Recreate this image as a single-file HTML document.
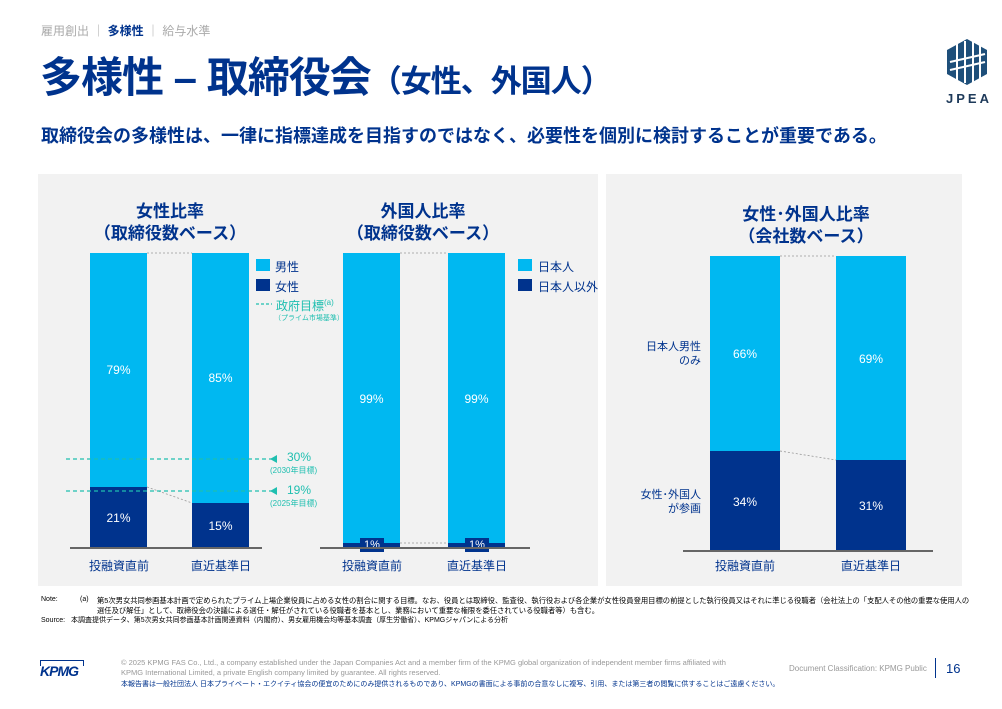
<!DOCTYPE html>
<html><head><meta charset="utf-8"><style>
*{margin:0;padding:0;box-sizing:border-box}
body{width:1002px;height:709px;background:#fff;position:relative;overflow:hidden;font-family:"Liberation Sans","Noto Sans CJK JP",sans-serif;color:#1e3a8a}
.a{position:absolute;white-space:nowrap}
.panel{position:absolute;background:#f2f2f2}
.bar{position:absolute}
.lt{background:#00b8f1}
.dk{background:#00338d}
.pct{position:absolute;color:#fff;font-size:12px;text-align:center}
.t{position:absolute;font-weight:bold;font-size:17px;color:#00338d;text-align:center;line-height:22px}
.xl{position:absolute;font-size:12px;color:#00338d;text-align:center;width:100px}
.base{position:absolute;height:2px;background:#666}
.teal{color:#1fbfb0}
</style></head><body>
<div class="a" style="left:41px;top:22px;font-size:12px;color:#aaa">雇用創出 ｜ <b style="color:#00338d">多様性</b> ｜ 給与水準</div>
<div class="a" style="left:40px;top:44px;font-size:42px;font-weight:bold;color:#00338d;letter-spacing:-1px">多様性 – 取締役会<span style="font-size:31px">（女性、外国人）</span></div>
<div class="a" style="left:41px;top:122px;font-size:18px;font-weight:bold;color:#00338d">取締役会の多様性は、一律に指標達成を目指すのではなく、必要性を個別に検討することが重要である。</div>
<svg class="a" style="left:945px;top:38px" width="45" height="48" viewBox="0 0 45 48">
<polygon points="22,1 42,12 42,36 22,47 2,36 2,12" fill="#1e4f7a"/>
<g stroke="#fff" stroke-width="2"><line x1="12" y1="6" x2="12" y2="42"/><line x1="20" y1="3" x2="20" y2="45"/><line x1="28" y1="3" x2="28" y2="45"/><line x1="35" y1="6" x2="35" y2="42"/><line x1="5" y1="24" x2="40" y2="16"/><line x1="5" y1="32" x2="40" y2="24"/></g></svg>
<div class="a" style="left:946px;top:91px;font-size:13px;font-weight:bold;color:#1e3a5a;letter-spacing:3px">JPEA</div>

<div class="panel" style="left:38px;top:174px;width:560px;height:412px"></div>
<div class="panel" style="left:606px;top:174px;width:356px;height:412px"></div>

<!-- chart1 -->
<div class="t" style="left:60px;top:201px;width:220px">女性比率<br>（取締役数ベース）</div>
<div class="bar lt" style="left:90px;top:253px;width:57px;height:234px"></div>
<div class="bar dk" style="left:90px;top:487px;width:57px;height:61px"></div>
<div class="bar lt" style="left:192px;top:253px;width:57px;height:250px"></div>
<div class="bar dk" style="left:192px;top:503px;width:57px;height:45px"></div>
<div class="pct" style="left:90px;top:363px;width:57px">79%</div>
<div class="pct" style="left:192px;top:371px;width:57px">85%</div>
<div class="pct" style="left:90px;top:511px;width:57px">21%</div>
<div class="pct" style="left:192px;top:519px;width:57px">15%</div>
<svg class="a" style="left:0;top:0" width="1002" height="709">
<line x1="147" y1="253" x2="192" y2="253" stroke="#999" stroke-dasharray="2,2" stroke-width="0.8"/>
<line x1="147" y1="487" x2="192" y2="503" stroke="#999" stroke-dasharray="2,2" stroke-width="0.8"/>
<line x1="66" y1="459" x2="272" y2="459" stroke="#1fbfb0" stroke-dasharray="4,3" stroke-width="1.2"/>
<line x1="66" y1="491" x2="272" y2="491" stroke="#1fbfb0" stroke-dasharray="4,3" stroke-width="1.2"/>
<polygon points="270,459 277,455 277,463" fill="#1fbfb0"/>
<polygon points="270,491 277,487 277,495" fill="#1fbfb0"/>
<line x1="256" y1="304" x2="272" y2="304" stroke="#1fbfb0" stroke-dasharray="3,2" stroke-width="1.2"/>
<line x1="400" y1="253" x2="448" y2="253" stroke="#999" stroke-dasharray="2,2" stroke-width="0.8"/>
<line x1="400" y1="543" x2="448" y2="543" stroke="#999" stroke-dasharray="2,2" stroke-width="0.8"/>
<line x1="780" y1="451" x2="836" y2="460" stroke="#999" stroke-dasharray="2,2" stroke-width="0.8"/>
<line x1="780" y1="256" x2="836" y2="256" stroke="#999" stroke-dasharray="2,2" stroke-width="0.8"/>
</svg>
<div class="a" style="left:256px;top:259px;width:14px;height:12px;background:#00b8f1"></div>
<div class="a" style="left:275px;top:258px;font-size:12px;color:#00338d">男性</div>
<div class="a" style="left:256px;top:279px;width:14px;height:12px;background:#00338d"></div>
<div class="a" style="left:275px;top:278px;font-size:12px;color:#00338d">女性</div>
<div class="a teal" style="left:276px;top:297px;font-size:12px">政府目標<sup style="font-size:8px">(a)</sup></div>
<div class="a teal" style="left:274px;top:313px;font-size:7px">（プライム市場基準）</div>
<div class="a teal" style="left:287px;top:450px;font-size:12px">30%</div>
<div class="a teal" style="left:270px;top:465px;font-size:8px">(2030年目標)</div>
<div class="a teal" style="left:287px;top:483px;font-size:12px">19%</div>
<div class="a teal" style="left:270px;top:498px;font-size:8px">(2025年目標)</div>
<div class="base" style="left:70px;top:547px;width:192px"></div>
<div class="xl" style="left:69px;top:557px">投融資直前</div>
<div class="xl" style="left:171px;top:557px">直近基準日</div>

<!-- chart2 -->
<div class="t" style="left:313px;top:201px;width:220px">外国人比率<br>（取締役数ベース）</div>
<div class="bar lt" style="left:343px;top:253px;width:57px;height:290px"></div>
<div class="bar dk" style="left:343px;top:543px;width:57px;height:5px"></div>
<div class="bar lt" style="left:448px;top:253px;width:57px;height:290px"></div>
<div class="bar dk" style="left:448px;top:543px;width:57px;height:5px"></div>
<div class="pct" style="left:343px;top:392px;width:57px">99%</div>
<div class="pct" style="left:448px;top:392px;width:57px">99%</div>
<div class="a" style="left:360px;top:538px;width:24px;height:14px;background:#00338d;color:#fff;font-size:11px;text-align:center;line-height:14px">1%</div>
<div class="a" style="left:465px;top:538px;width:24px;height:14px;background:#00338d;color:#fff;font-size:11px;text-align:center;line-height:14px">1%</div>
<div class="a" style="left:518px;top:259px;width:14px;height:12px;background:#00b8f1"></div>
<div class="a" style="left:538px;top:258px;font-size:12px;color:#00338d">日本人</div>
<div class="a" style="left:518px;top:279px;width:14px;height:12px;background:#00338d"></div>
<div class="a" style="left:538px;top:278px;font-size:12px;color:#00338d">日本人以外</div>
<div class="base" style="left:320px;top:547px;width:210px"></div>
<div class="xl" style="left:322px;top:557px">投融資直前</div>
<div class="xl" style="left:427px;top:557px">直近基準日</div>

<!-- chart3 -->
<div class="t" style="left:696px;top:204px;width:220px">女性･外国人比率<br>（会社数ベース）</div>
<div class="bar lt" style="left:710px;top:256px;width:70px;height:195px"></div>
<div class="bar dk" style="left:710px;top:451px;width:70px;height:100px"></div>
<div class="bar lt" style="left:836px;top:256px;width:70px;height:204px"></div>
<div class="bar dk" style="left:836px;top:460px;width:70px;height:91px"></div>
<div class="pct" style="left:710px;top:347px;width:70px">66%</div>
<div class="pct" style="left:836px;top:352px;width:70px">69%</div>
<div class="pct" style="left:710px;top:495px;width:70px">34%</div>
<div class="pct" style="left:836px;top:499px;width:70px">31%</div>
<div class="a" style="left:620px;top:340px;width:81px;text-align:right;font-size:11px;color:#00338d;line-height:14px">日本人男性<br>のみ</div>
<div class="a" style="left:620px;top:488px;width:81px;text-align:right;font-size:11px;color:#00338d;line-height:14px">女性･外国人<br>が参画</div>
<div class="base" style="left:683px;top:550px;width:250px"></div>
<div class="xl" style="left:695px;top:557px">投融資直前</div>
<div class="xl" style="left:821px;top:557px">直近基準日</div>

<!-- notes -->
<div class="a" style="left:41px;top:596px;font-size:7px;color:#000">Note:</div>
<div class="a" style="left:80px;top:596px;font-size:7px;color:#000">(a)</div>
<div class="a" style="left:97px;top:596px;font-size:7.3px;color:#000;line-height:10px">第5次男女共同参画基本計画で定められたプライム上場企業役員に占める女性の割合に関する目標。なお、役員とは取締役、監査役、執行役および各企業が女性役員登用目標の前提とした執行役員又はそれに準じる役職者（会社法上の「支配人その他の重要な使用人の<br>選任及び解任」として、取締役会の決議による選任・解任がされている役職者を基本とし、業務において重要な権限を委任されている役職者等）も含む。</div>
<div class="a" style="left:41px;top:615px;font-size:7px;color:#000">Source:&nbsp;&nbsp;&nbsp;本調査提供データ、第5次男女共同参画基本計画関連資料（内閣府）、男女雇用機会均等基本調査（厚生労働省）、KPMGジャパンによる分析</div>

<div class="a" style="left:40px;top:660px;width:44px;height:6px;border:1px solid #00338d;border-bottom:none"></div>
<div class="a" style="left:40px;top:663px;font-size:14px;font-weight:bold;font-style:italic;color:#00338d;letter-spacing:-1px">KPMG</div>
<div class="a" style="left:121px;top:658px;font-size:7.5px;color:#999;line-height:10px">© 2025 KPMG FAS Co., Ltd., a company established under the Japan Companies Act and a member firm of the KPMG global organization of independent member firms affiliated with<br>KPMG International Limited, a private English company limited by guarantee. All rights reserved.</div>
<div class="a" style="left:121px;top:679px;font-size:7px;color:#00338d">本報告書は一般社団法人 日本プライベート・エクイティ協会の便宜のためにのみ提供されるものであり、KPMGの書面による事前の合意なしに複写、引用、または第三者の閲覧に供することはご遠慮ください。</div>
<div class="a" style="left:789px;top:664px;font-size:8px;color:#999">Document Classification: KPMG Public</div>
<div class="a" style="left:935px;top:658px;width:1px;height:20px;background:#00338d"></div>
<div class="a" style="left:946px;top:661px;font-size:13px;color:#00338d">16</div>
</body></html>
